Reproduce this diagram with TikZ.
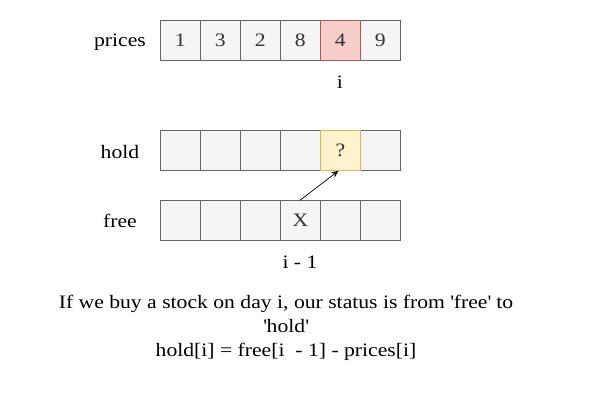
\documentclass[tikz,border=0pt]{standalone}
\usepackage{fontspec}
\setmainfont[FakeStretch=1.14]{Liberation Serif}
\usetikzlibrary{arrows.meta}
\definecolor{cellfill}{HTML}{F5F5F5}
\definecolor{celldraw}{HTML}{666666}
\definecolor{redfill}{HTML}{F8CECC}
\definecolor{reddraw}{HTML}{B85450}
\definecolor{yelfill}{HTML}{FFF2CC}
\definecolor{yeldraw}{HTML}{D6B656}
\definecolor{txt}{HTML}{333333}
\newcommand{\sq}{\textquotesingle}
\tikzset{
  cell/.style={draw=celldraw, fill=cellfill, line width=0.8pt, minimum width=40pt, minimum height=40pt, inner sep=0pt, anchor=north west, font=\fontsize{19}{23}\selectfont, text=txt},
  redcell/.style={cell, draw=reddraw, fill=redfill},
  yelcell/.style={cell, draw=yeldraw, fill=yelfill},
  lbl/.style={font=\fontsize{19}{24}\selectfont, text=black, inner sep=0pt},
}
\begin{document}
\begin{tikzpicture}[x=1pt,y=-1pt]
\useasboundingbox (0,0) rectangle (601,402);
% prices row
\node[cell] (p1) at (160,20) {1};
\node[cell] (p2) at (200,20) {3};
\node[cell] (p3) at (240,20) {2};
\node[cell] (p4) at (280,20) {8};
\node[cell] (p6) at (360,20) {9};
\node[redcell] (p5) at (320,20) {4};
% hold row
\node[cell] (h1) at (160,130) {};
\node[cell] (h2) at (200,130) {};
\node[cell] (h3) at (240,130) {};
\node[cell] (h4) at (280,130) {};
\node[cell] (h6) at (360,130) {};
\node[yelcell] (h5) at (320,130) {?};
% free row
\node[cell] (f1) at (160,200) {};
\node[cell] (f2) at (200,200) {};
\node[cell] (f3) at (240,200) {};
\node[cell] (f4) at (280,200) {X};
\node[cell] (f5) at (320,200) {};
\node[cell] (f6) at (360,200) {};
% labels
\node[lbl] (lp) at (120,42) {prices};
\node[lbl] (lh) at (120,152) {hold};
\node[lbl] (lf) at (120,221) {free};
\node[lbl] (li) at (340,82) {i};
\node[lbl] (li1) at (300,262) {i - 1};
% arrow
\draw[-{Stealth[length=7pt,width=6pt]}, line width=0.7pt] (f4.north) -- ([xshift=-2pt]h5.south);
% caption
\node[lbl, align=center] (cap) at (286,328) {If we buy a stock on day i, our status is from \sq free\sq{} to\\\sq hold\sq\\hold[i] = free[i~ - 1] - prices[i]};
\end{tikzpicture}
\end{document}
